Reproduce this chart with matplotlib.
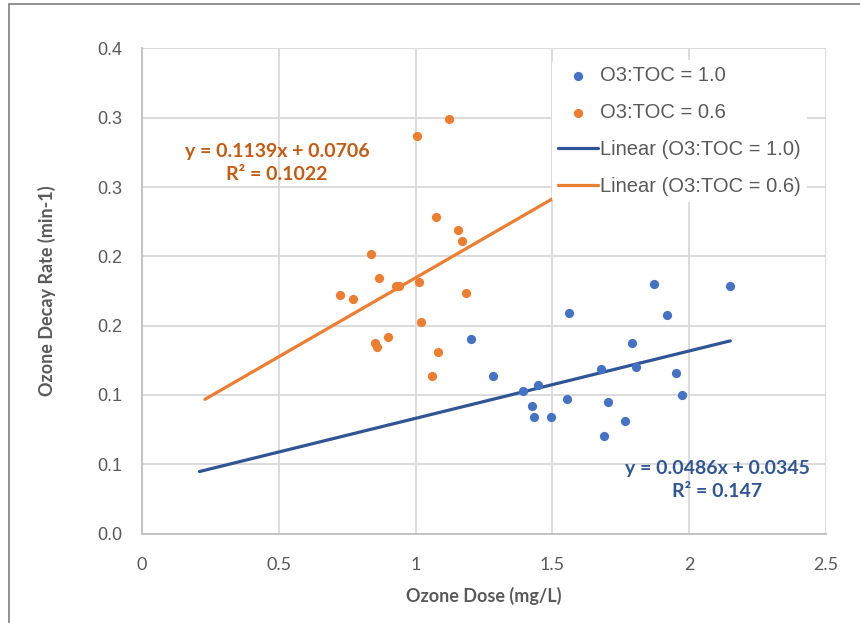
import matplotlib
matplotlib.use("Agg")
import matplotlib.pyplot as plt
import numpy as np
from matplotlib.patches import Rectangle

# O3:TOC = 1.0 (blue)
dose_10 = [1.202, 1.283, 1.561, 1.391, 1.446, 1.427, 1.434, 1.494, 1.555, 1.676,
           1.705, 1.690, 1.764, 1.791, 1.806, 1.872, 1.919, 1.953, 1.975, 2.150]
rate_10 = [0.1401, 0.1134, 0.1589, 0.1028, 0.1069, 0.0920, 0.0841, 0.0841, 0.0973, 0.1189,
           0.0947, 0.0706, 0.0812, 0.1374, 0.1199, 0.1800, 0.1576, 0.1160, 0.0999, 0.1788]

# O3:TOC = 0.6 (orange)
dose_06 = [1.122, 1.006, 1.073, 1.156, 1.170, 0.837, 0.865, 0.928, 0.940, 1.014,
           0.724, 0.770, 1.183, 1.021, 0.899, 0.852, 0.859, 1.081, 1.061]
rate_06 = [0.2991, 0.2870, 0.2284, 0.2190, 0.2108, 0.2017, 0.1841, 0.1788, 0.1788, 0.1815,
           0.1723, 0.1694, 0.1733, 0.1524, 0.1416, 0.1377, 0.1346, 0.1307, 0.1134]

# trendlines as shown: slope, intercept, drawn x-range
fit_10 = (0.0486, 0.0345)
fit_06 = (0.1139, 0.0706)
span_10 = [0.21, 2.15]
span_06 = [0.23, 1.70]
eq_10 = "y = 0.0486x + 0.0345\nR² = 0.147"
eq_06 = "y = 0.1139x + 0.0706\nR² = 0.1022"

x_ticks = [0, 0.5, 1, 1.5, 2, 2.5]
x_tick_labels = ["0", "0.5", "1", "1.5", "2", "2.5"]
y_ticks = [0.0, 0.05, 0.10, 0.15, 0.20, 0.25, 0.30, 0.35]
y_tick_labels = ["0.0", "0.1", "0.1", "0.2", "0.2", "0.3", "0.3", "0.4"]

BLUE = "#4472C4"
ORANGE = "#ED7D31"
BLUE_LINE = "#2F5597"
ORANGE_TEXT = "#C55A11"
GREY_TXT = "#595959"
GRID = "#D9D9D9"

W, H = 860, 623
fig = plt.figure(figsize=(W / 100, H / 100), dpi=100)
fig.patch.set_facecolor("white")
ax = fig.add_axes([142 / W, 1 - 533.5 / H, (826 - 142) / W, (533.5 - 48.4) / H])

ax.scatter(dose_10, rate_10, s=44, c=BLUE, linewidths=0, zorder=3, label="O3:TOC = 1.0")
ax.scatter(dose_06, rate_06, s=44, c=ORANGE, linewidths=0, zorder=3, label="O3:TOC = 0.6")

xs = np.array(span_10)
ax.plot(xs, fit_10[0] * xs + fit_10[1], color=BLUE_LINE, lw=2.3, zorder=2,
        solid_capstyle="round", label="Linear (O3:TOC = 1.0)")
xs = np.array(span_06)
ax.plot(xs, fit_06[0] * xs + fit_06[1], color=ORANGE, lw=2.3, zorder=2,
        solid_capstyle="round", label="Linear (O3:TOC = 0.6)")

ax.set_xlim(0, 2.5)
ax.set_ylim(0, 0.35)
ax.set_xticks(x_ticks)
ax.set_xticklabels(x_tick_labels, family="Lato", fontsize=13, color=GREY_TXT)
ax.set_yticks(y_ticks)
ax.set_yticklabels(y_tick_labels, family="Liberation Sans", fontsize=13, color=GREY_TXT)
ax.tick_params(axis="both", length=0)
ax.tick_params(axis="x", pad=17)
ax.tick_params(axis="y", pad=14)
ax.grid(True, color=GRID, lw=1.3, zorder=0)
ax.set_axisbelow(True)
for side in ("top", "right"):
    ax.spines[side].set_visible(False)
for side in ("left", "bottom"):
    ax.spines[side].set_color("#BFBFBF")
    ax.spines[side].set_linewidth(1.3)

ax.set_xlabel("Ozone Dose (mg/L)", family="Lato", fontweight="bold", fontsize=13,
              color=GREY_TXT, labelpad=10)
ax.set_ylabel("Ozone Decay Rate (min-1)", family="Lato", fontweight="bold", fontsize=13,
              color=GREY_TXT, labelpad=30)

# equation labels, positioned in pixels from the top-left of the image
for (px, py), txt, col in (((277, 163), eq_06, ORANGE_TEXT), ((717, 480), eq_10, BLUE_LINE)):
    fig.text(px / W, 1 - py / H, txt, ha="center", va="center", family="Lato",
             fontweight="bold", fontsize=14, color=col, linespacing=1.45)

handles, labels = ax.get_legend_handles_labels()
leg = ax.legend(handles, labels, loc="upper left",
                bbox_to_anchor=(552 / W, 1 - 60 / H), bbox_transform=fig.transFigure,
                frameon=True, facecolor="white", edgecolor="white", framealpha=1,
                prop={"family": "Liberation Sans", "size": 14.5}, handlelength=2.0,
                handletextpad=0.1, labelspacing=0.9, borderpad=0.3, borderaxespad=0)
for txt in leg.get_texts():
    txt.set_color(GREY_TXT)
leg.get_frame().set_linewidth(0)

fig.patches.append(Rectangle((9 / W, -0.1), 1.2, 1.1 - 4 / H, transform=fig.transFigure,
                             fill=False, edgecolor="#7F7F7F", lw=1.2))

fig.savefig("out.png", dpi=100)
